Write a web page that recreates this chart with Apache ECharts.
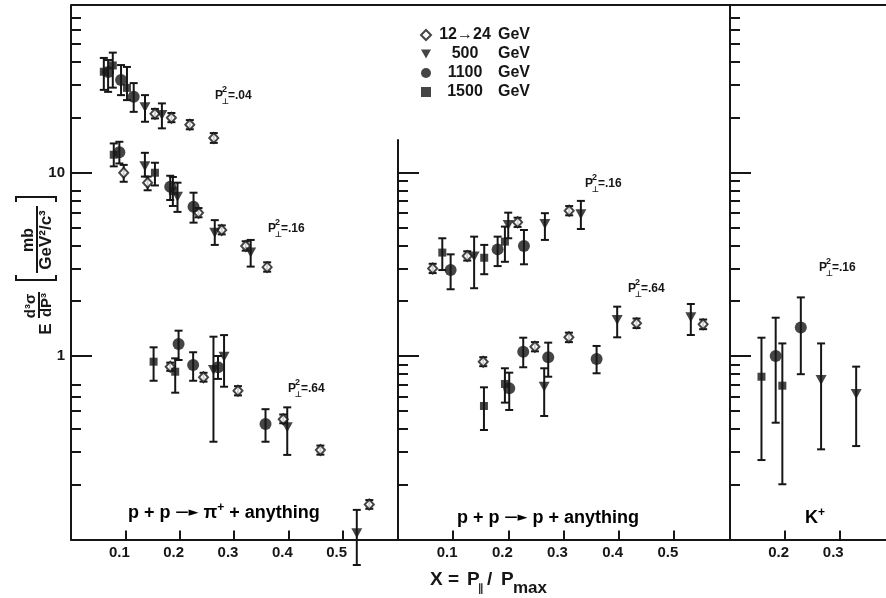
<!DOCTYPE html>
<html>
<head>
<meta charset="utf-8">
<title>Invariant cross sections, p + p inclusive</title>
<script src="https://cdn.jsdelivr.net/npm/echarts@6/dist/echarts.min.js"></script>
<style>
  html, body { margin: 0; padding: 0; background: #fff; }
  #chart { width: 886px; height: 598px; }
</style>
</head>
<body>
<div id="chart"></div>
<script>
// ---- data: [x, E d3s/dp3, lower error, upper error] ----
// p + p -> pi+ + anything
const piE12 = [
  [0.1545, 20.9, 19.7, 22.2], [0.1848, 19.9, 18.8, 21.1], [0.2187, 18.2, 17.2, 19.3], [0.2628, 15.4, 14.5, 16.4],
  [0.097, 9.97, 8.9, 11.0], [0.141, 8.8, 8.0, 9.5], [0.2347, 6.04, 5.7, 6.4], [0.2774, 4.86, 4.6, 5.15],
  [0.3215, 3.98, 3.75, 4.22], [0.361, 3.05, 2.88, 3.24],
  [0.1826, 0.874, 0.83, 0.92], [0.2439, 0.765, 0.725, 0.81], [0.3073, 0.647, 0.61, 0.685],
  [0.3906, 0.452, 0.43, 0.48], [0.459, 0.307, 0.29, 0.325], [0.549, 0.155, 0.147, 0.164]
];
const piE500 = [
  [0.1362, 22.7, 18.9, 26.4], [0.1673, 20.6, 17.4, 23.8],
  [0.136, 10.8, 9.5, 12.8], [0.196, 7.38, 6.1, 8.8], [0.2646, 4.7, 4.03, 5.5], [0.3307, 3.67, 3.07, 4.29],
  [0.2622, 0.839, 0.341, 1.274], [0.2817, 0.99, 0.68, 1.30], [0.398, 0.409, 0.289, 0.525], [0.526, 0.108, 0.0726, 0.145]
];
const piE1100 = [
  [0.0683, 35.3, 27.5, 41.0], [0.0921, 31.9, 26.4, 38.5], [0.1154, 25.9, 21.4, 30.7],
  [0.089, 12.9, 11.2, 14.7], [0.1826, 8.37, 7.08, 9.6], [0.2255, 6.5, 5.33, 7.76],
  [0.198, 1.163, 0.951, 1.374], [0.2248, 0.893, 0.733, 1.048], [0.2706, 0.868, 0.75, 1.0], [0.358, 0.426, 0.341, 0.513]
];
const piE1500 = [
  [0.0604, 35.4, 28.2, 42.1], [0.0769, 38.3, 29.0, 45.0], [0.103, 28.9, 24.8, 37.6],
  [0.0787, 12.5, 10.8, 14.4], [0.1545, 9.97, 8.5, 11.3], [0.1875, 7.93, 6.57, 9.45],
  [0.152, 0.931, 0.733, 1.115], [0.1918, 0.821, 0.631, 0.971]
];

// p + p -> p + anything
const prE12 = [
  [0.0628, 3.0, 2.83, 3.18], [0.1255, 3.51, 3.31, 3.72], [0.2168, 5.35, 5.05, 5.67], [0.3103, 6.19, 5.84, 6.56],
  [0.1545, 0.931, 0.88, 0.985], [0.2482, 1.124, 1.06, 1.19], [0.3098, 1.264, 1.19, 1.34],
  [0.4324, 1.507, 1.42, 1.6], [0.5531, 1.488, 1.40, 1.58]
];
const prE500 = [
  [0.138, 3.48, 2.34, 4.47], [0.1998, 5.17, 4.38, 6.04], [0.2663, 5.24, 4.29, 6.0], [0.3315, 5.92, 4.92, 7.0],
  [0.265, 0.68, 0.471, 0.857], [0.3973, 1.571, 1.264, 1.857], [0.5308, 1.625, 1.301, 1.92]
];
const prE1100 = [
  [0.0954, 2.94, 2.31, 3.58], [0.1806, 3.81, 3.09, 4.47], [0.2283, 3.98, 3.16, 4.86],
  [0.2016, 0.667, 0.508, 0.811], [0.227, 1.056, 0.868, 1.258], [0.2723, 0.983, 0.771, 1.182], [0.36, 0.963, 0.805, 1.134]
];
const prE1500 = [
  [0.0803, 3.66, 2.94, 4.38], [0.1563, 3.43, 2.79, 4.03], [0.1938, 4.2, 3.26, 5.07],
  [0.1558, 0.534, 0.395, 0.675], [0.1938, 0.704, 0.557, 0.857]
];

// K+
const kE500 = [[0.2667, 0.740, 0.310, 1.171], [0.3309, 0.621, 0.323, 0.875]];
const kE1100 = [[0.1836, 1.0, 0.433, 1.617], [0.2296, 1.431, 0.796, 2.086]];
const kE1500 = [[0.1576, 0.771, 0.271, 1.258], [0.1958, 0.689, 0.200, 1.171]];

// ---- ticks ----
const xTicks = [0.1, 0.2, 0.3, 0.4, 0.5];
const kXTicks = [0.2, 0.3];
const yMajorTicks = [1, 10];
const piMinorTicks = [0.2, 0.3, 0.4, 0.5, 0.6, 0.7, 2, 3, 4, 5, 6, 7, 8, 20, 30, 40, 50, 60, 70];
const prMinorTicks = [0.2, 0.3, 0.4, 0.5, 0.6, 0.7, 0.8, 0.9, 2, 3, 4, 5, 6, 7, 8, 9];
const kMinorTicks = [0.2, 0.3, 0.4, 0.5, 0.6, 0.7, 0.8, 0.9, 2, 3, 4, 5, 6, 7, 8, 9, 20, 30, 40, 50, 60, 70];

const energies = ['12\u219224 GeV', '500 GeV', '1100 GeV', '1500 GeV'];

const INK = '#161616';
const FONT = "'Liberation Sans', Arial, sans-serif";

const markStyle = {
  '12\u219224 GeV': { symbol: 'diamond', symbolSize: [9, 10], itemStyle: { color: '#fff', borderColor: INK, borderWidth: 2 } },
  '500 GeV': { symbol: 'path://M0,0L10,0L5,9Z', symbolSize: [11, 10], itemStyle: { color: INK } },
  '1100 GeV': { symbol: 'circle', symbolSize: 12, itemStyle: { color: INK } },
  '1500 GeV': { symbol: 'rect', symbolSize: 8, itemStyle: { color: INK } }
};

// one panel per reaction: its grid and its data sets per energy
const panels = [
  { grid: 0, sets: [piE12, piE500, piE1100, piE1500] },
  { grid: 1, sets: [prE12, prE500, prE1100, prE1500] },
  { grid: 2, sets: [null, kE500, kE1100, kE1500] }
];

const chart = echarts.init(document.getElementById('chart'), null, { renderer: 'canvas' });

const axisLine = { show: true, onZero: false, lineStyle: { color: INK, width: 2 } };
const tickLine = { color: INK, width: 2 };

function xAxisFor(grid, min, max, ticks) {
  return {
    type: 'value', gridIndex: grid, min: min, max: max, position: 'bottom',
    axisLine: axisLine,
    axisTick: { show: true, inside: true, length: 9, customValues: ticks, lineStyle: tickLine },
    axisLabel: {
      show: true, customValues: ticks, formatter: v => v.toFixed(1),
      color: INK, fontFamily: FONT, fontWeight: 'bold', fontSize: 15, margin: 6, padding: [0, 12, 0, 0]
    },
    splitLine: { show: false }
  };
}

// a log axis with long ticks and labels at the decades, and a second one on
// the same edge carrying the short in-between ticks
function yAxesFor(grid, max, minor, withLabels) {
  return [
    {
      type: 'log', logBase: 10, gridIndex: grid, min: 0.1, max: max, position: 'left', offset: 0,
      axisLine: axisLine,
      axisTick: { show: true, inside: true, length: 21, customValues: yMajorTicks, lineStyle: tickLine },
      axisLabel: {
        show: withLabels, customValues: yMajorTicks, formatter: v => String(v),
        color: INK, fontFamily: FONT, fontWeight: 'bold', fontSize: 15, margin: 6
      },
      splitLine: { show: false }
    },
    {
      type: 'log', logBase: 10, gridIndex: grid, min: 0.1, max: max, position: 'left', offset: 0,
      axisLine: { show: false },
      axisTick: { show: true, inside: true, length: 10, customValues: minor, lineStyle: tickLine },
      axisLabel: { show: false },
      splitLine: { show: false }
    }
  ];
}

function renderErrorBar(params, api) {
  const x = api.value(0);
  const top = api.coord([x, api.value(3)]);
  const bot = api.coord([x, api.value(2)]);
  const w = 4;
  const st = { stroke: INK, lineWidth: 2 };
  return {
    type: 'group',
    children: [
      { type: 'line', shape: { x1: top[0], y1: top[1], x2: bot[0], y2: bot[1] }, style: st },
      { type: 'line', shape: { x1: top[0] - w, y1: top[1], x2: top[0] + w, y2: top[1] }, style: st },
      { type: 'line', shape: { x1: bot[0] - w, y1: bot[1], x2: bot[0] + w, y2: bot[1] }, style: st }
    ]
  };
}

const markerSeries = [];
const errorSeries = [];
panels.forEach(p => {
  p.sets.forEach((data, i) => {
    if (!data) return;
    const name = energies[i];
    const ms = markStyle[name];
    markerSeries.push({
      type: 'scatter', name: name,
      xAxisIndex: p.grid, yAxisIndex: p.grid * 2,
      symbol: ms.symbol, symbolSize: ms.symbolSize, itemStyle: ms.itemStyle,
      data: data.map(d => [d[0], d[1]]),
      z: 3, silent: true, animation: false
    });
    errorSeries.push({
      type: 'custom', name: name,
      xAxisIndex: p.grid, yAxisIndex: p.grid * 2,
      renderItem: renderErrorBar,
      encode: { x: 0, y: [1, 2, 3] },
      data: data,
      clip: false, z: 2, silent: true, animation: false
    });
  });
});

// small "p_perp^2 = value" annotation
function pPerpLabel(x, y, value) {
  const f = s => 'bold ' + s + 'px ' + FONT;
  return {
    type: 'group', x: x, y: y,
    children: [
      { type: 'text', x: 0, y: 0, style: { text: 'P', font: f(12), fill: INK, verticalAlign: 'top' } },
      { type: 'text', x: 7, y: -5, style: { text: '2', font: f(9), fill: INK, verticalAlign: 'top' } },
      { type: 'text', x: 6.5, y: 8, style: { text: '\u22A5', font: "bold 8px 'DejaVu Sans'", fill: INK, verticalAlign: 'top' } },
      { type: 'text', x: 13, y: 0, style: { text: '=' + value, font: f(12), fill: INK, verticalAlign: 'top' } }
    ]
  };
}

const reactionRich = {
  a: { fontFamily: FONT, fontWeight: 'bold', fontSize: 18, lineHeight: 22, verticalAlign: 'middle', color: INK },
  r: { fontFamily: "'DejaVu Sans'", fontWeight: 'bold', fontSize: 13, lineHeight: 22, verticalAlign: 'middle', color: INK },
  s: { fontFamily: FONT, fontWeight: 'bold', fontSize: 12, lineHeight: 22, verticalAlign: 'top', color: INK }
};

function txt(x, y, text, size, extra) {
  return {
    type: 'text', x: x, y: y,
    style: Object.assign({ text: text, font: 'bold ' + size + 'px ' + FONT, fill: INK, verticalAlign: 'middle' }, extra || {})
  };
}

// rotated y-axis title: E d3sigma/dP3 [ mb / GeV^2/c^3 ]
const yTitle = {
  type: 'group', x: 39, y: 336, rotation: Math.PI / 2,
  children: [
    txt(7, 7, 'E', 17, { align: 'center' }),
    txt(30, -8, 'd\u00B3\u03C3', 15, { align: 'center' }),
    { type: 'line', shape: { x1: 18, y1: 0, x2: 44, y2: 0 }, style: { stroke: INK, lineWidth: 2 } },
    txt(31, 8, 'dP\u00B3', 15, { align: 'center' }),
    { type: 'polyline', shape: { points: [[61, -23], [56, -23], [56, 17], [61, 17]] }, style: { stroke: INK, lineWidth: 2, fill: null } },
    txt(96, -10, 'mb', 16, { align: 'center' }),
    { type: 'line', shape: { x1: 63, y1: -2, x2: 130, y2: -2 }, style: { stroke: INK, lineWidth: 2 } },
    txt(96, 7, 'GeV\u00B2/c\u00B3', 17, { align: 'center' }),
    { type: 'polyline', shape: { points: [[134, -23], [139, -23], [139, 17], [134, 17]] }, style: { stroke: INK, lineWidth: 2, fill: null } }
  ]
};

const option = {
  backgroundColor: '#fff',
  animation: false,
  grid: [
    { left: 71, top: 5, width: 326, height: 534.5 },
    { left: 398, top: 140, width: 331, height: 399.5 },
    { left: 730, top: 5, width: 156, height: 534.5 }
  ],
  xAxis: [
    xAxisFor(0, 0, 0.6, xTicks),
    xAxisFor(1, 0, 0.6, xTicks),
    xAxisFor(2, 0.1, 0.3855, kXTicks)
  ],
  yAxis: [].concat(
    yAxesFor(0, 81.8, piMinorTicks, true),
    yAxesFor(1, 15.03, prMinorTicks, false),
    yAxesFor(2, 81.8, kMinorTicks, false)
  ),
  legend: {
    orient: 'vertical', left: 415, top: 22,
    itemWidth: 10, itemHeight: 10, itemGap: 3,
    data: energies,
    selectedMode: false,
    formatter: name => '{n|' + name.replace(' GeV', '') + '}{g|GeV}',
    textStyle: {
      color: INK, fontFamily: FONT, fontWeight: 'bold', fontSize: 16,
      rich: {
        n: { width: 58, align: 'right', fontFamily: FONT, fontWeight: 'bold', fontSize: 16, lineHeight: 16, color: INK },
        g: { padding: [0, 0, 0, 4], fontFamily: FONT, fontWeight: 'bold', fontSize: 16, lineHeight: 16, color: INK }
      }
    }
  },
  graphic: [
    { type: 'line', shape: { x1: 71, y1: 5, x2: 886, y2: 5 }, style: { stroke: INK, lineWidth: 2 } },
    pPerpLabel(215, 90, '.04'),
    pPerpLabel(268, 223, '.16'),
    pPerpLabel(288, 383, '.64'),
    pPerpLabel(585, 178, '.16'),
    pPerpLabel(628, 283, '.64'),
    pPerpLabel(819, 262, '.16'),
    { type: 'text', x: 128, y: 502, style: { text: '{a|p + p }{r|\u2014\u25BA}{a| \u03C0}{s|+}{a| + anything}', rich: reactionRich } },
    { type: 'text', x: 457, y: 507, style: { text: '{a|p + p }{r|\u2014\u25BA}{a| p + anything}', rich: reactionRich } },
    { type: 'text', x: 805, y: 507, style: { text: '{a|K}{s|+}', rich: reactionRich } },
    // x-axis title
    txt(430, 580, 'X =', 19),
    txt(467, 580, 'P', 19),
    txt(478, 589, '\u2225', 11, { font: "bold 11px 'DejaVu Sans'" }),
    txt(487, 580, '/', 19),
    txt(501, 580, 'P', 19),
    txt(513, 588, 'max', 17),
    yTitle
  ],
  series: markerSeries.concat(errorSeries)
};

chart.setOption(option);
</script>
</body>
</html>
